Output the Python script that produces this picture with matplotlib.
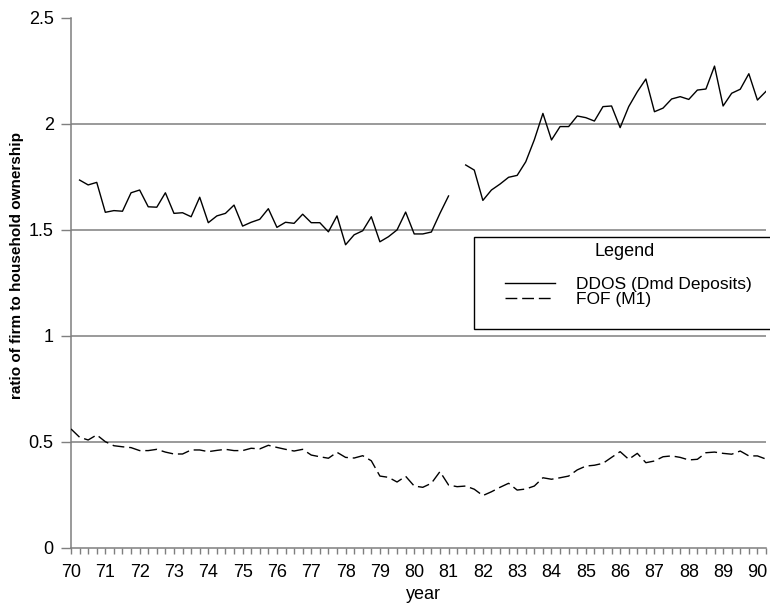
import numpy as np
import matplotlib
matplotlib.use("Agg")
import matplotlib.pyplot as plt
from matplotlib.patches import Rectangle
from matplotlib.ticker import FixedLocator

plt.rcParams['font.family'] = ['Liberation Sans', 'DejaVu Sans']

nan = np.nan

# Quarterly observations, 1970Q1 .. 1990Q2 (year + fraction of year)
quarter_dates = np.arange(70.0, 90.25 + 1e-9, 0.25)

# Ratio of firm to household ownership of demand deposits (DDOS)
ddos = [nan,
        1.734, 1.711, 1.723, 1.582,
        1.590, 1.587, 1.674, 1.687,
        1.608, 1.606, 1.674, 1.577,
        1.580, 1.561, 1.653, 1.533,
        1.565, 1.577, 1.616, 1.517,
        1.535, 1.549, 1.599, 1.511,
        1.535, 1.530, 1.573, 1.533,
        1.533, 1.490, 1.565, 1.429,
        1.476, 1.495, 1.561, 1.443,
        1.467, 1.499, 1.583, 1.480,
        1.480, 1.489, 1.577, 1.659,
        nan, 1.805, 1.781, 1.638,
        1.687, 1.715, 1.747, 1.756,
        1.820, 1.924, 2.048, 1.923,
        1.986, 1.986, 2.036, 2.028,
        2.012, 2.080, 2.083, 1.981,
        2.080, 2.150, 2.210, 2.056,
        2.073, 2.116, 2.127, 2.114,
        2.158, 2.163, 2.271, 2.083,
        2.143, 2.162, 2.235, 2.111,
        2.152]

# Ratio of firm to household ownership of M1 (Flow of Funds)
fof = [0.561,
       0.522, 0.509, 0.533, 0.501,
       0.482, 0.477, 0.473, 0.459,
       0.459, 0.465, 0.452, 0.443,
       0.443, 0.462, 0.462, 0.454,
       0.460, 0.465, 0.459, 0.459,
       0.470, 0.467, 0.484, 0.474,
       0.465, 0.457, 0.465, 0.438,
       0.430, 0.423, 0.451, 0.427,
       0.424, 0.435, 0.411, 0.339,
       0.333, 0.311, 0.338, 0.292,
       0.286, 0.305, 0.360, 0.297,
       0.289, 0.292, 0.277, 0.247,
       0.265, 0.286, 0.305, 0.273,
       0.278, 0.292, 0.331, 0.324,
       0.331, 0.339, 0.368, 0.386,
       0.390, 0.399, 0.427, 0.454,
       0.418, 0.446, 0.402, 0.410,
       0.430, 0.434, 0.427, 0.415,
       0.418, 0.449, 0.452, 0.446,
       0.442, 0.457, 0.434, 0.434,
       0.419]

year_ticks = list(range(70, 91))
year_labels = [str(y) for y in year_ticks]
y_ticks = [0, 0.5, 1.0, 1.5, 2.0, 2.5]
y_labels = ["0", "0.5", "1", "1.5", "2", "2.5"]
grid_levels = [0.5, 1.0, 1.5, 2.0]

series_labels = ["DDOS (Dmd Deposits)", "FOF (M1)"]

W, H = 770, 604
fig = plt.figure(figsize=(W / 100, H / 100), dpi=100)
ax = fig.add_axes([71 / W, 1 - 548 / H, (766 - 71) / W, (548 - 17.5) / H])

gray = "#7f7f7f"
for g in grid_levels:
    ax.axhline(g, color=gray, lw=1.1, zorder=1)

l1, = ax.plot(quarter_dates, ddos, color="black", lw=1.0, zorder=3,
              label=series_labels[0])
l2, = ax.plot(quarter_dates, fof, color="black", lw=1.0, zorder=3,
              dashes=(8.5, 3.5), label=series_labels[1])

ax.set_xlim(70, 90.25)
ax.set_ylim(0, 2.5)

for side in ("top", "right"):
    ax.spines[side].set_visible(False)
for side in ("left", "bottom"):
    ax.spines[side].set_color(gray)
    ax.spines[side].set_linewidth(1.1)

ax.xaxis.set_major_locator(FixedLocator(year_ticks))
ax.set_xticklabels(year_labels)
ax.xaxis.set_minor_locator(FixedLocator(quarter_dates))
ax.set_yticks(y_ticks)
ax.set_yticklabels(y_labels)

ax.tick_params(axis="x", which="both", direction="out", length=4.3, width=1.0,
               color=gray, labelsize=13, pad=7.5)
ax.tick_params(axis="y", which="major", direction="out", length=7, width=1.0,
               color=gray, labelsize=13, pad=5.5)

fig.text(17 / W, 1 - 266 / H, "ratio of firm to household ownership",
         rotation=90, ha="center", va="center", fontsize=11, fontweight="bold")
fig.text(423 / W, 5 / H, "year", ha="center", va="baseline", fontsize=13)

# Legend box with title and the two entries
frame = Rectangle((474 / W, 1 - 329 / H), (772 - 474) / W, (329 - 237) / H,
                  transform=fig.transFigure, facecolor="white",
                  edgecolor="black", lw=1.0, zorder=5)
fig.patches.append(frame)
fig.text(625 / W, 1 - 252 / H, "Legend", ha="center", va="center",
         fontsize=13, zorder=6)
leg = fig.legend(handles=[l1, l2], labels=series_labels, loc="center left",
                 bbox_to_anchor=(505 / W, 1 - 292 / H), frameon=False,
                 fontsize=12.5, handlelength=2.9, handletextpad=1.2,
                 labelspacing=0.0, borderpad=0, borderaxespad=0)
leg.set_zorder(6)

fig.savefig("out.png", dpi=100)
